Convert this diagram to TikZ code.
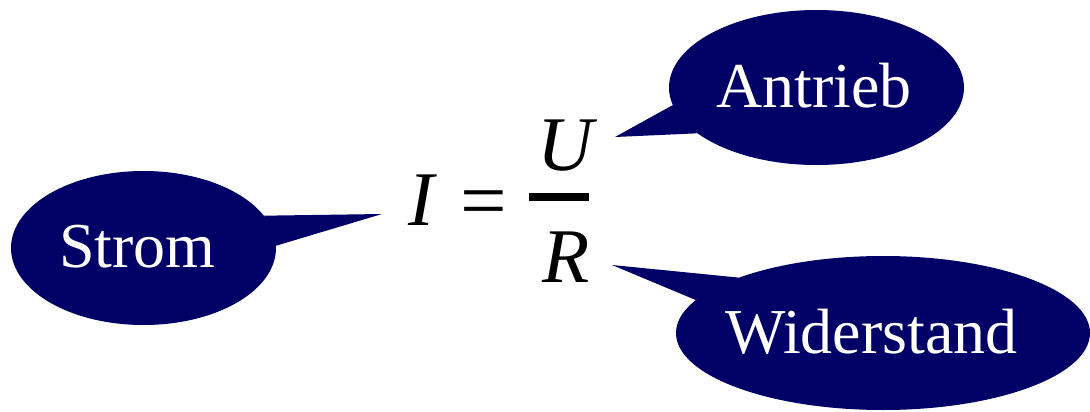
\documentclass[tikz,border=0pt]{standalone}
\usepackage{fontspec}
\setmainfont{Liberation Serif}
\usetikzlibrary{shapes.geometric}
\definecolor{navy}{RGB}{0,0,102}
\begin{document}
\begin{tikzpicture}[x=0.75pt,y=-0.75pt,
  bubble/.style={ellipse, fill=navy, draw=none, inner sep=0pt},
  bubbletext/.style={text=white, anchor=base, inner sep=0pt, font=\fontsize{48}{58}\selectfont},
  formula/.style={anchor=base, inner sep=0pt, font=\fontsize{58}{70}\selectfont\itshape},
  pointer/.style={fill=navy, draw=none}]
\useasboundingbox (0,0) rectangle (1090,411);
\clip (0,0) rectangle (1090,411);
% bubbles
\node[bubble, minimum width=265*0.75pt, minimum height=154*0.75pt] (strom) at (143.5,248) {};
\node[bubble, minimum width=295*0.75pt, minimum height=155*0.75pt] (antrieb) at (816.5,87.5) {};
\node[bubble, minimum width=414*0.75pt, minimum height=154*0.75pt] (wider) at (883,333) {};
% pointer tips
\coordinate (tipS) at (382,214);
\coordinate (tipA) at (615,137);
\coordinate (tipW) at (612,265);
\fill[pointer] (tipS) -- (strom.15.4) -- (strom.1.7) -- cycle;
\fill[pointer] (tipA) -- (antrieb.187.8) -- (antrieb.201.4) -- cycle;
\fill[pointer] (tipW) -- (wider.159) -- (wider.170.8) -- cycle;
% bubble texts
\node[bubbletext] (tS) at (137.5,267) {Strom};
\node[bubbletext] (tA) at (814,107) {Antrieb};
\node[bubbletext] (tW) at (871.5,353) {Widerstand};
% formula
\node[formula] (I) at (421,225) {I};
\node[anchor=base, inner sep=0pt, font=\fontsize{62}{74}\selectfont] (eq) at (484,228) {=};
\fill (529,193) rectangle (589,201);
\node[formula] (U) at (565,170) {U};
\node[formula] (R) at (566,282) {R};
\end{tikzpicture}
\end{document}
